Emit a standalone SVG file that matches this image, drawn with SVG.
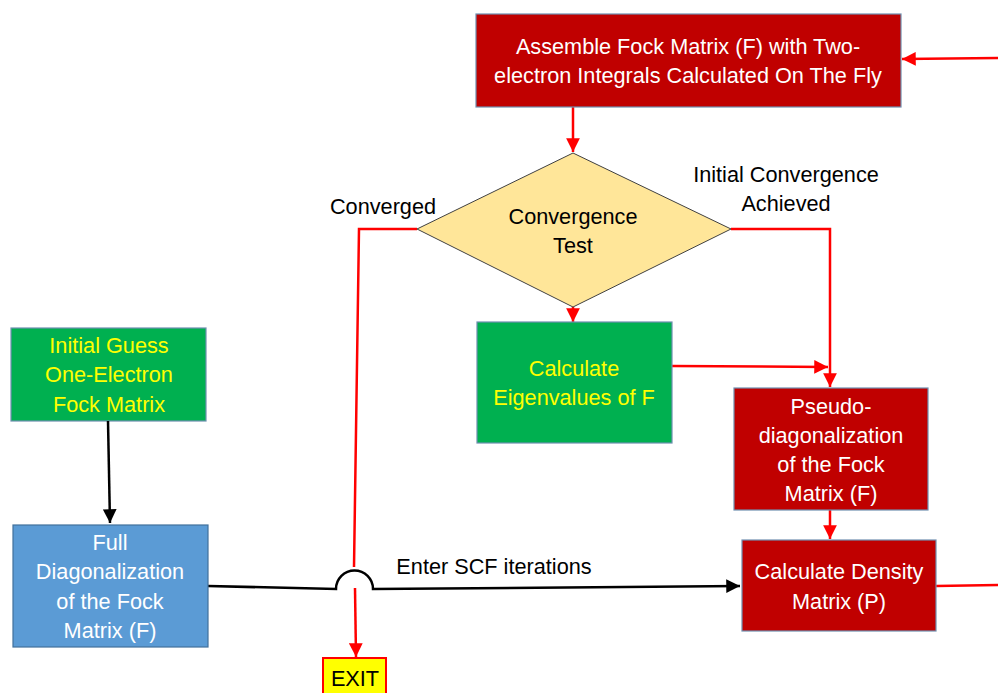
<svg xmlns="http://www.w3.org/2000/svg" width="998" height="693" viewBox="0 0 998 693">
<style>
text{font-family:"Liberation Sans",Arial,sans-serif;font-size:21.7px;text-anchor:middle}
.red{fill:#C00000;stroke:#6F8FB0;stroke-width:1.2}
.grn{fill:#00B050;stroke:#6F8FB0;stroke-width:1.2}
.blu{fill:#5B9BD5;stroke:#41719C;stroke-width:1.2}
.w{fill:#FFFFFF}
.y{fill:#FFFF00}
.k{fill:#000000}
.rl{fill:none;stroke:#FF0000;stroke-width:2.5}
.bl{fill:none;stroke:#000000;stroke-width:2.5}
</style>
<defs>
<marker id="ar" viewBox="0 0 10 10" refX="10" refY="5" markerWidth="5.5" markerHeight="5.5" orient="auto" markerUnits="strokeWidth"><path d="M0,0 L10,5 L0,10 z" fill="#FF0000"/></marker>
<marker id="ab" viewBox="0 0 10 10" refX="10" refY="5" markerWidth="5.5" markerHeight="5.5" orient="auto" markerUnits="strokeWidth"><path d="M0,0 L10,5 L0,10 z" fill="#000000"/></marker>
</defs>
<rect width="998" height="693" fill="#FFFFFF"/>
<g id="connectors">
<path class="rl" d="M573,107 L573,152" marker-end="url(#ar)"/>
<path class="rl" d="M573,307 L573,322" marker-end="url(#ar)"/>
<path class="rl" d="M672,366 L828,367" marker-end="url(#ar)"/>
<path class="rl" d="M731,229 L830,229 L830,387" marker-end="url(#ar)"/>
<path class="rl" d="M830,510 L830,539" marker-end="url(#ar)"/>
<path class="rl" d="M936,586 L998,585"/>
<path class="rl" d="M998,58 L902,59" marker-end="url(#ar)"/>
<path class="rl" d="M417,229 L359,229 L354,567"/>
<path class="rl" d="M355,588 L356,657" marker-end="url(#ar)"/>
<path class="bl" d="M208,586 L336,589 A18.5,18.5 0 0 1 373,589 L740,586" marker-end="url(#ab)"/>
<text x="383" y="214" class="k">Converged</text>
<text x="786" y="182" class="k">Initial Convergence</text>
<text x="786" y="211" class="k">Achieved</text>
<text x="494" y="574" class="k">Enter SCF iterations</text>
</g>
<g id="assemble">
<rect class="red" x="476" y="14" width="425" height="93"/>
<text x="688" y="54" class="w">Assemble Fock Matrix (F) with Two-</text>
<text x="688" y="83" class="w">electron Integrals Calculated On The Fly</text>
</g>
<g id="convergence-test">
<polygon points="573,153 731,229 573,307 417,229" fill="#FFE699" stroke="#404040" stroke-width="1"/>
<text x="573" y="224" class="k">Convergence</text>
<text x="573" y="253" class="k">Test</text>
</g>
<g id="eigenvalues">
<rect class="grn" x="477" y="322" width="195" height="121"/>
<text x="574" y="376" class="y">Calculate</text>
<text x="574" y="405" class="y">Eigenvalues of F</text>
</g>
<g id="pseudo">
<rect class="red" x="734" y="388" width="194" height="122"/>
<text x="831" y="414" class="w">Pseudo-</text>
<text x="831" y="443" class="w">diagonalization</text>
<text x="831" y="472" class="w">of the Fock</text>
<text x="831" y="501" class="w">Matrix (F)</text>
</g>
<g id="density">
<rect class="red" x="742" y="540" width="194" height="91"/>
<text x="839" y="579" class="w">Calculate Density</text>
<text x="839" y="609" class="w">Matrix (P)</text>
</g>
<g id="initial-guess">
<rect class="grn" x="11" y="328" width="195" height="93"/>
<text x="109" y="353" class="y">Initial Guess</text>
<text x="109" y="382" class="y">One-Electron</text>
<text x="109" y="412" class="y">Fock Matrix</text>
</g>
<path class="bl" d="M108,421 L110,523" marker-end="url(#ab)"/>
<g id="full-diag">
<rect class="blu" x="13" y="525" width="195" height="122"/>
<text x="110" y="550" class="w">Full</text>
<text x="110" y="579" class="w">Diagonalization</text>
<text x="110" y="609" class="w">of the Fock</text>
<text x="110" y="638" class="w">Matrix (F)</text>
</g>
<g id="exit">
<rect x="323" y="658" width="63" height="40" fill="#FFFF00" stroke="#FF0000" stroke-width="2"/>
<text x="355" y="686" class="k">EXIT</text>
</g>
</svg>
